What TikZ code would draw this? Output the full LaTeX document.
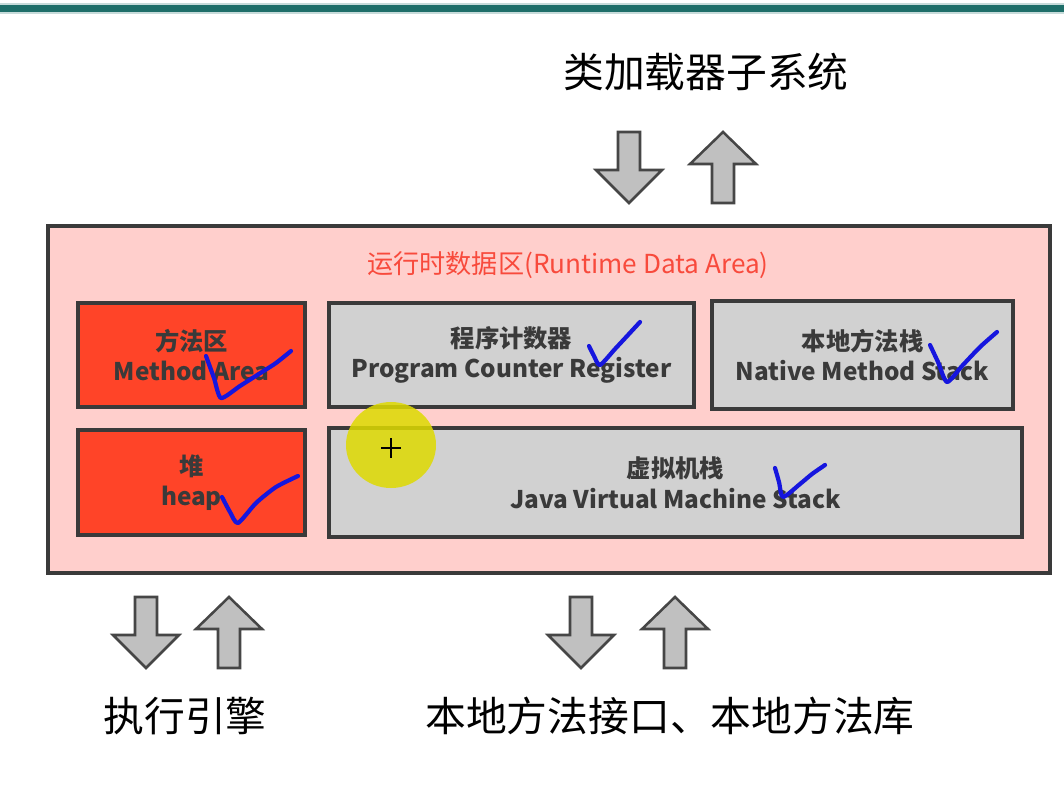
\documentclass[tikz,border=0pt]{standalone}
\usepackage{fontspec}
\setmainfont{Noto Sans CJK SC}
\usepackage{tikz}

\definecolor{barteal}{RGB}{30,110,105}
\definecolor{rdapink}{RGB}{255,207,204}
\definecolor{areared}{RGB}{255,68,40}
\definecolor{stackgray}{RGB}{209,209,209}
\definecolor{edgegray}{RGB}{58,58,58}
\definecolor{titlered}{RGB}{248,74,60}
\definecolor{txtgray}{RGB}{58,58,58}
\definecolor{arrowfill}{RGB}{192,192,192}
\definecolor{arrowedge}{RGB}{70,70,70}
\definecolor{tickblue}{RGB}{22,22,222}
\definecolor{spotyellow}{RGB}{222,218,0}

\newcommand{\pxu}{0.025cm}
\newcommand{\blkdown}[2]{\draw[blockarrow, shift={(#1,#2)}] (-11,0) -- (11,0) -- (11,38) -- (33,38) -- (0,71) -- (-33,38) -- (-11,38) -- cycle;}
\newcommand{\blkup}[2]{\draw[blockarrow, shift={(#1,#2)}] (0,0) -- (33,32) -- (11,32) -- (11,71) -- (-11,71) -- (-11,32) -- (-33,32) -- cycle;}

\tikzset{
  region/.style={draw=edgegray, line width=2.2pt, fill=#1, inner sep=0pt},
  boxtxt/.style={text=txtgray, font=\bfseries\fontsize{17.3}{21.8}\selectfont, align=center},
  bigtxt/.style={font=\fontsize{29}{34}\selectfont, inner sep=0pt},
  blockarrow/.style={fill=arrowfill, draw=arrowedge, line width=1.8pt, line join=miter},
  tick/.style={draw=tickblue, line width=3pt, line cap=round, line join=round}
}

\begin{document}
\begin{tikzpicture}[x=0.025cm, y=-0.025cm]
    \useasboundingbox (0,0) rectangle (1064,784);
    \fill[white] (0,0) rectangle (1064,784);
    \fill[barteal!25] (0,3) rectangle (1064,14);
    \fill[barteal] (0,5) rectangle (1064,12);

    \node[bigtxt] (loader) at (706,72) {类加载器子系统};
    \blkdown{629}{132}
    \blkup{723}{132}

    \node[region=rdapink, minimum width=1002*\pxu, minimum height=347*\pxu] (rda) at (549,399.5) {};
    \node[text=titlered, font=\fontsize{18.6}{21}\selectfont] (rdatitle) at (568,265) {运行时数据区(Runtime Data Area)};

    \node[region=areared, boxtxt, minimum width=227*\pxu, minimum height=104*\pxu] (method) at (191.5,355) {方法区\\Method Area};
    \node[region=stackgray, boxtxt, minimum width=365*\pxu, minimum height=104*\pxu] (pc) at (511.5,355) {程序计数器\\Program Counter Register};
    \node[region=stackgray, boxtxt, minimum width=301*\pxu, minimum height=108*\pxu] (native) at (862.5,355) {本地方法栈\\Native Method Stack};
    \node[region=areared, boxtxt, minimum width=227*\pxu, minimum height=105*\pxu] (heap) at (191.5,482.5) {堆\\heap};
    \node[region=stackgray, boxtxt, minimum width=693*\pxu, minimum height=109*\pxu] (jvmstack) at (675.5,482.5) {虚拟机栈\\Java Virtual Machine Stack};

    \blkdown{146}{597}
    \blkup{229}{597}
    \blkdown{581}{597}
    \blkup{675}{597}
    \node[bigtxt] (engine) at (185,716) {执行引擎};
    \node[bigtxt] (nativelib) at (670,716) {本地方法接口、本地方法库};

    % hand-drawn ticks
    \draw[tick] plot[smooth, tension=0.4] coordinates {(206,356) (214,378) (221,398) (240,386) (262,372) (276,363) (291,351)};
    \draw[tick] plot[smooth, tension=0.4] coordinates {(589,346) (594,356) (600,365) (615,349) (628,335) (640,322)};
    \draw[tick] plot[smooth, tension=0.4] coordinates {(930,345) (938,362) (947,382) (962,366) (980,347) (997,332)};
    \draw[tick] plot[smooth, tension=0.4] coordinates {(222,497) (230,512) (238,523) (256,503) (276,487) (298,476)};
    \draw[tick] plot[smooth, tension=0.4] coordinates {(775,468) (779,482) (783,497) (800,484) (812,474) (825,465)};

    % cursor spot
    \fill[spotyellow, opacity=0.85] (391,445) ellipse (45 and 43);
    \draw[line width=1.8pt] (381,448) -- (401,448) (391,438) -- (391,458);
\end{tikzpicture}
\end{document}
